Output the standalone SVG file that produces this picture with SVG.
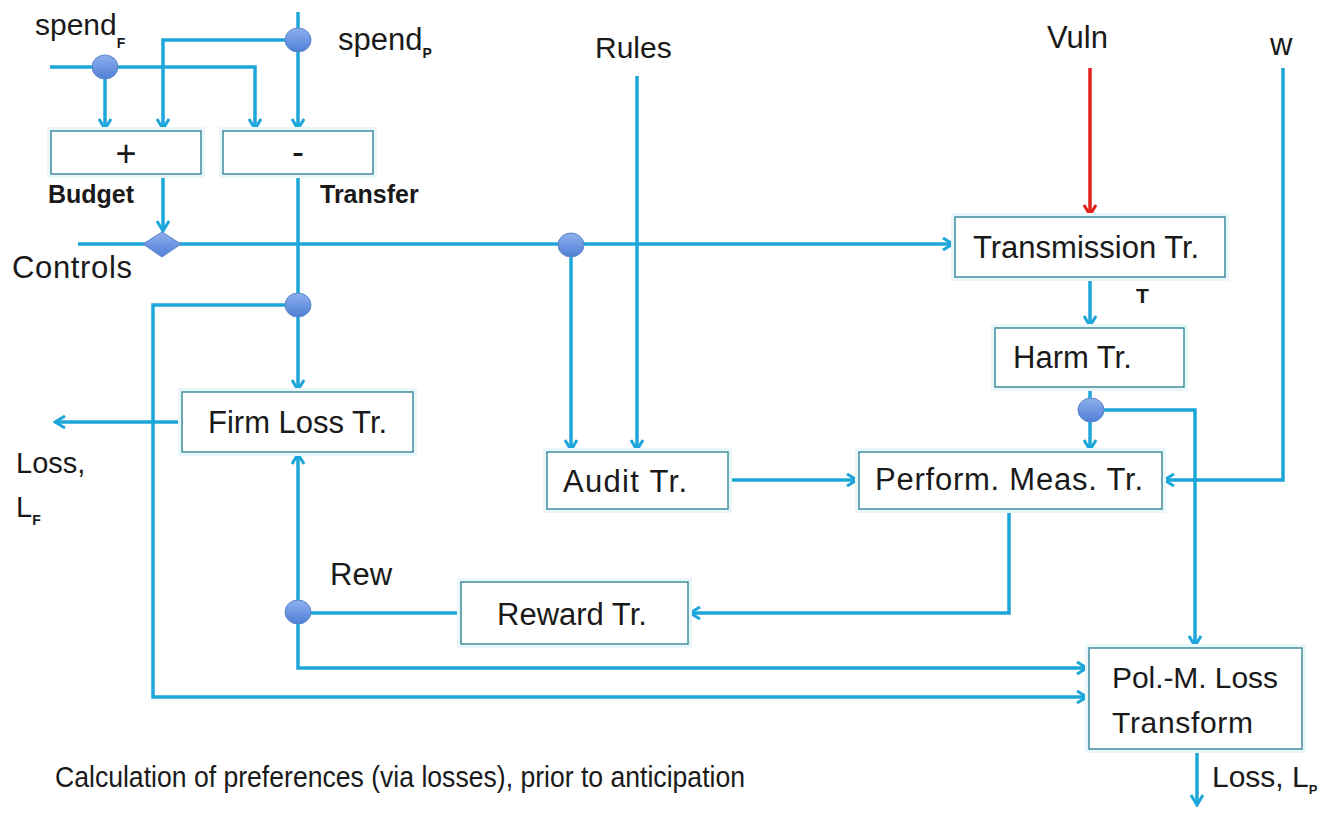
<svg xmlns="http://www.w3.org/2000/svg" width="1331" height="813" viewBox="0 0 1331 813">
  <defs>
    <style>
      .lbl { font-family: "Liberation Sans", Arial, sans-serif; fill: #1a1a1a; }
      .bold { font-weight: bold; }
      .box { fill: #ffffff; stroke: #3f8d9f; stroke-width: 1.5; }
      .halo { fill: none; stroke: #e9f7fb; stroke-width: 8; }
      .wire { fill: none; stroke: #1ca6d9; stroke-width: 3.5; stroke-linejoin: miter; }
      .wire-red { fill: none; stroke: #e3211c; stroke-width: 3.5; }
      .dot { fill: url(#dotFill); stroke: #5b86c9; stroke-width: 1; }
    </style>
    <linearGradient id="dotFill" x1="0" y1="0" x2="0" y2="1">
      <stop offset="0" stop-color="#8fb0ee"/>
      <stop offset="1" stop-color="#4f7fd6"/>
    </linearGradient>
    <marker id="arr" viewBox="0 0 14 14" refX="12" refY="7" markerWidth="14" markerHeight="14" markerUnits="userSpaceOnUse" orient="auto">
      <path d="M2,1 L12,7 L2,13" fill="none" stroke="#1ca6d9" stroke-width="3"/>
    </marker>
    <marker id="arrRed" viewBox="0 0 14 14" refX="12" refY="7" markerWidth="14" markerHeight="14" markerUnits="userSpaceOnUse" orient="auto">
      <path d="M2,1 L12,7 L2,13" fill="none" stroke="#e3211c" stroke-width="3"/>
    </marker>
  </defs>

  <rect width="1331" height="813" fill="#ffffff"/>

  <!-- connectors -->
  <g id="connectors">
    <path class="wire" d="M50,67 H255 V129" marker-end="url(#arr)"/>
    <path class="wire" d="M105,67 V129" marker-end="url(#arr)"/>
    <path class="wire" d="M298,12 V129" marker-end="url(#arr)"/>
    <path class="wire" d="M298,40 H163 V129" marker-end="url(#arr)"/>
    <path class="wire" d="M163,174 V231" marker-end="url(#arr)"/>
    <path class="wire" d="M78,244 H953" marker-end="url(#arr)"/>
    <path class="wire" d="M298,174 V390" marker-end="url(#arr)"/>
    <path class="wire" d="M298,305 H153 V697 H1087" marker-end="url(#arr)"/>
    <path class="wire" d="M571,245 V450" marker-end="url(#arr)"/>
    <path class="wire" d="M637,76 V450" marker-end="url(#arr)"/>
    <path class="wire-red" d="M1090,68 V215" marker-end="url(#arrRed)"/>
    <path class="wire" d="M1283,68 V480 H1164" marker-end="url(#arr)"/>
    <path class="wire" d="M1090,277 V326" marker-end="url(#arr)"/>
    <path class="wire" d="M1090,387 V450" marker-end="url(#arr)"/>
    <path class="wire" d="M1091,410 H1195 V646" marker-end="url(#arr)"/>
    <path class="wire" d="M728,480 H857" marker-end="url(#arr)"/>
    <path class="wire" d="M1009,509 V613 H690" marker-end="url(#arr)"/>
    <path class="wire" d="M461,613 H298"/>
    <path class="wire" d="M298,612 V454" marker-end="url(#arr)"/>
    <path class="wire" d="M298,612 V668 H1087" marker-end="url(#arr)"/>
    <path class="wire" d="M182,422 H55" marker-end="url(#arr)"/>
    <path class="wire" d="M1197,749 V805" marker-end="url(#arr)"/>
  </g>

  <!-- junction points -->
  <g id="junctions">
    <ellipse class="dot" cx="105" cy="67" rx="13" ry="12"/>
    <ellipse class="dot" cx="298" cy="40" rx="13" ry="12"/>
    <ellipse class="dot" cx="298" cy="305" rx="13" ry="12"/>
    <ellipse class="dot" cx="571" cy="245" rx="13" ry="12"/>
    <ellipse class="dot" cx="1091" cy="410" rx="13" ry="12"/>
    <ellipse class="dot" cx="298" cy="612" rx="13" ry="12"/>
    <polygon class="dot" points="143,244 162,232 181,244 162,257"/>
  </g>

  <!-- input labels -->
  <g id="inputs">
    <text class="lbl" x="35" y="35" font-size="30">spend<tspan class="bold" font-size="14" dy="13">F</tspan></text>
    <text class="lbl" x="338" y="50" font-size="31">spend<tspan class="bold" font-size="14" dy="8">P</tspan></text>
    <text class="lbl" x="12" y="278" font-size="31" textLength="120">Controls</text>
    <text class="lbl" x="595" y="58" font-size="30">Rules</text>
    <text class="lbl" x="1047" y="48" font-size="31">Vuln</text>
    <text class="lbl" x="1270" y="55" font-size="31">w</text>
    <text class="lbl" x="330" y="585" font-size="31">Rew</text>
    <text class="lbl bold" x="1136" y="303" font-size="21">T</text>
  </g>

  <g id="budget">
    <rect class="halo" x="51" y="131" width="150" height="43"/>
    <rect class="box" x="51" y="131" width="150" height="43"/>
    <text class="lbl" x="126" y="166" font-size="36" text-anchor="middle">+</text>
    <text class="lbl bold" x="48" y="203" font-size="25">Budget</text>
  </g>

  <g id="transfer">
    <rect class="halo" x="223" y="131" width="150" height="43"/>
    <rect class="box" x="223" y="131" width="150" height="43"/>
    <text class="lbl" x="298" y="164" font-size="36" text-anchor="middle">-</text>
    <text class="lbl bold" x="320" y="203" font-size="25">Transfer</text>
  </g>

  <g id="transmission">
    <rect class="halo" x="955" y="217" width="270" height="60"/>
    <rect class="box" x="955" y="217" width="270" height="60"/>
    <text class="lbl" x="973" y="258" font-size="31">Transmission Tr.</text>
  </g>

  <g id="harm">
    <rect class="halo" x="995" y="328" width="189" height="59"/>
    <rect class="box" x="995" y="328" width="189" height="59"/>
    <text class="lbl" x="1013" y="368" font-size="31">Harm Tr.</text>
  </g>

  <g id="firm-loss">
    <rect class="halo" x="182" y="392" width="231" height="60"/>
    <rect class="box" x="182" y="392" width="231" height="60"/>
    <text class="lbl" x="208" y="433" font-size="31">Firm Loss Tr.</text>
  </g>

  <g id="loss-firm">
    <text class="lbl" x="16" y="473" font-size="29">Loss,</text>
    <text class="lbl" x="16" y="517" font-size="29">L<tspan class="bold" font-size="14" dy="8">F</tspan></text>
  </g>

  <g id="audit">
    <rect class="halo" x="547" y="452" width="181" height="57"/>
    <rect class="box" x="547" y="452" width="181" height="57"/>
    <text class="lbl" x="563" y="492" font-size="31" textLength="124">Audit Tr.</text>
  </g>

  <g id="perform">
    <rect class="halo" x="859" y="452" width="303" height="57"/>
    <rect class="box" x="859" y="452" width="303" height="57"/>
    <text class="lbl" x="875" y="490" font-size="31" textLength="268">Perform. Meas. Tr.</text>
  </g>

  <g id="reward">
    <rect class="halo" x="461" y="582" width="227" height="62"/>
    <rect class="box" x="461" y="582" width="227" height="62"/>
    <text class="lbl" x="497" y="625" font-size="31">Reward Tr.</text>
  </g>

  <g id="policy-loss">
    <rect class="halo" x="1089" y="648" width="213" height="101"/>
    <rect class="box" x="1089" y="648" width="213" height="101"/>
    <text class="lbl" x="1112" y="688" font-size="30" textLength="166">Pol.-M. Loss</text>
    <text class="lbl" x="1112" y="733" font-size="30" textLength="141">Transform</text>
  </g>

  <g id="loss-policy">
    <text class="lbl" x="1212" y="787" font-size="30">Loss, L<tspan class="bold" font-size="13" dy="7">P</tspan></text>
  </g>

  <g id="caption">
    <text class="lbl" x="55" y="787" font-size="29.5" textLength="690" lengthAdjust="spacingAndGlyphs">Calculation of preferences (via losses), prior to anticipation</text>
  </g>
</svg>
